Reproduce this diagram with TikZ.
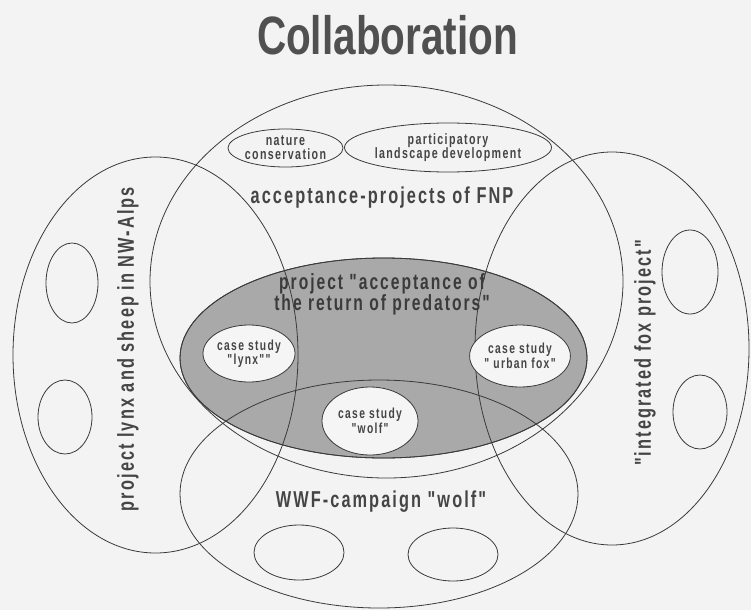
\documentclass[tikz,border=0pt]{standalone}
\usepackage{fontspec}
\usetikzlibrary{shapes.geometric}
\newfontfamily\titlefont[FakeStretch=0.75]{Liberation Sans}
\newfontfamily\lblfont[FakeStretch=0.71,LetterSpace=9]{Liberation Sans}
\definecolor{bgcol}{HTML}{F3F3F3}
\definecolor{predgray}{HTML}{A9A9A9}
\definecolor{casefill}{HTML}{F5F5F5}
\definecolor{inkline}{HTML}{3A3A3A}
\definecolor{inktext}{HTML}{454545}
\definecolor{titlegray}{HTML}{505050}
\tikzset{
  ring/.style={ellipse, draw=inkline, line width=0.8pt, inner sep=0pt, outer sep=0pt},
  predring/.style={ring, fill=predgray},
  casering/.style={ring, fill=casefill, text=inktext, align=center,
    font=\lblfont\bfseries\fontsize{14.5}{14.5}\selectfont},
  topring/.style={ring, text=inktext, align=center,
    font=\lblfont\bfseries\fontsize{15}{14}\selectfont},
  biglabel/.style={text=inktext, inner sep=0pt,
    font=\lblfont\bfseries\fontsize{23}{23}\selectfont},
  predlabel/.style={text=inktext!85!black, inner sep=0pt, align=center,
    font=\lblfont\bfseries\fontsize{22}{21}\selectfont},
  titlelabel/.style={text=titlegray, inner sep=0pt,
    font=\titlefont\bfseries\fontsize{54}{54}\selectfont},
}
\begin{document}
\begin{tikzpicture}[x=1pt, y=-1pt]
  % page
  \fill[bgcol] (0,0) rectangle (751,610);
  \useasboundingbox (0,0) rectangle (751,610);

  % shaded core project
  \node[predring, minimum width=407pt, minimum height=200pt] (pred) at (383.5,358) {};

  % the four large project areas
  \node[ring, minimum width=473pt, minimum height=393pt] (fnp)  at (386.5,281.5) {};
  \node[ring, minimum width=285pt, minimum height=396pt] (lynx) at (155.5,355) {};
  \node[ring, minimum width=274pt, minimum height=393pt] (fox)  at (612,348.5) {};
  \node[ring, minimum width=398pt, minimum height=228pt] (wwf)  at (379,494) {};
  \draw[inkline, line width=0.8pt] (pred.center) ellipse [x radius=203.5pt, y radius=100pt];

  % sub-projects inside the FNP area
  \node[topring, minimum width=115pt, minimum height=38pt] (nature) at (285.5,148)
    {nature\\conservation};
  \node[topring, minimum width=184pt, minimum height=49pt] (partic) at (448,147.5)
    {participatory\\landscape development};

  % empty slots of the other projects
  \node[ring, minimum width=52pt, minimum height=80pt] (lynxA) at (72,283) {};
  \node[ring, minimum width=54pt, minimum height=74pt] (lynxB) at (65,417) {};
  \node[ring, minimum width=56pt, minimum height=84pt] (foxA) at (690,272) {};
  \node[ring, minimum width=54pt, minimum height=74pt] (foxB) at (700,412) {};
  \node[ring, minimum width=90pt, minimum height=55pt] (wwfA) at (299,552.5) {};
  \node[ring, minimum width=90pt, minimum height=53pt] (wwfB) at (453,554.5) {};

  % case studies
  \node[casering, minimum width=92pt, minimum height=57pt] (caseLynx) at (249,353.5)
    {case study\\"lynx""};
  \node[casering, minimum width=94pt, minimum height=62pt] (caseFox) at (520,356)
    {case study\\" urban fox"};
  \node[casering, minimum width=96pt, minimum height=68pt] (caseWolf) at (370,421)
    {case study\\"wolf"};

  % labels
  \node[titlelabel, anchor=base] (title) at (387.5,55) {Collaboration};
  \node[biglabel, anchor=base] (fnpLabel) at (382,203) {acceptance-projects of FNP};
  \node[biglabel, anchor=base] (wwfLabel) at (381,507) {WWF-campaign "wolf"};
  \node[biglabel, rotate=90] (lynxLabel) at (128,349) {project lynx and sheep in NW-Alps};
  \node[biglabel, rotate=90] (foxLabel) at (645,353) {"integrated fox project"};
  \node[predlabel] (predLabel) at (382,294)
    {project "acceptance of\\the return of predators"};
\end{tikzpicture}
\end{document}
